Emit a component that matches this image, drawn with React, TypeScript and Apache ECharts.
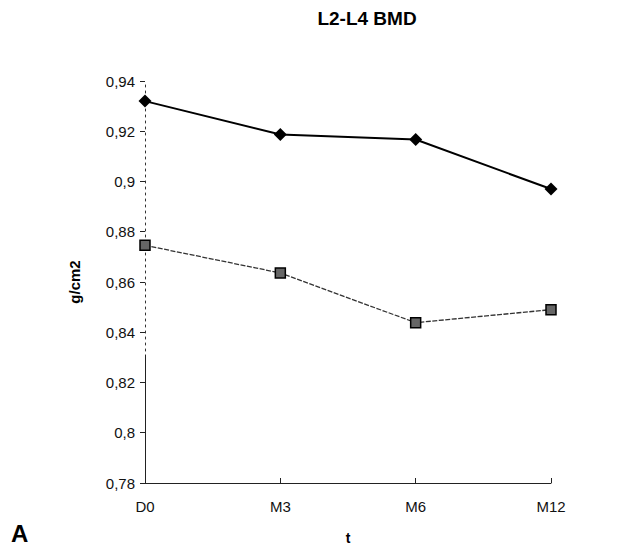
import React, { useEffect, useRef } from "react";
import * as echarts from "echarts";

const categories = ["D0", "M3", "M6", "M12"];
const seriesUpper = [0.932, 0.9187, 0.9167, 0.897];
const seriesLower = [0.8746, 0.8636, 0.8438, 0.849];
const yMin = 0.78;
const yMax = 0.94;
const yStep = 0.02;
const solidAxisPart = [0.78, 0.831];

const FONT = "'Liberation Sans', Arial, sans-serif";

export default function App() {
  const ref = useRef<HTMLDivElement>(null);
  useEffect(() => {
    if (!ref.current) return;
    const chart = echarts.init(ref.current, null, { renderer: "svg" });
    chart.setOption({
      animation: false,
      backgroundColor: "#ffffff",
      title: {
        text: "L2-L4 BMD",
        left: 362,
        top: 4,
        textAlign: "center",
        textStyle: { fontFamily: FONT, fontWeight: "bold", fontSize: 19, color: "#000" },
      },
      grid: { left: 145, top: 81, right: 89, bottom: 63, containLabel: false },
      xAxis: {
        type: "category",
        data: categories,
        boundaryGap: false,
        name: "t",
        nameLocation: "middle",
        nameGap: 48,
        nameTextStyle: { fontFamily: FONT, fontWeight: "bold", fontSize: 14, color: "#000" },
        axisLine: { lineStyle: { color: "#222", width: 1 } },
        axisTick: { show: true, inside: true, length: 5, lineStyle: { color: "#222" } },
        axisLabel: { fontFamily: FONT, fontSize: 15, color: "#111", margin: 16 },
        splitLine: { show: false },
      },
      yAxis: {
        type: "value",
        min: yMin,
        max: yMax,
        interval: yStep,
        name: "g/cm2",
        nameLocation: "middle",
        nameGap: 63,
        nameRotate: 90,
        nameTextStyle: { fontFamily: FONT, fontWeight: "bold", fontSize: 15, color: "#000" },
        axisLine: { show: true, lineStyle: { color: "#333", width: 1, type: [2, 4] } },
        axisTick: { show: true, length: 5, lineStyle: { color: "#222" } },
        axisLabel: {
          fontFamily: FONT,
          fontSize: 15,
          color: "#111",
          margin: 10,
          formatter: (v: number) => String(+v.toFixed(2)).replace(".", ","),
        },
        splitLine: { show: false },
      },
      graphic: [
        {
          type: "text",
          left: 11,
          top: 521,
          style: { text: "A", fontFamily: FONT, fontWeight: "bold", fontSize: 24, fill: "#000" },
        },
      ],
      series: [
        {
          type: "line",
          data: seriesUpper,
          symbol: "diamond",
          symbolSize: 13,
          itemStyle: { color: "#000" },
          lineStyle: { color: "#000", width: 2 },
          markLine: {
            silent: true,
            symbol: "none",
            label: { show: false },
            lineStyle: { color: "#222", width: 1, type: "solid" },
            data: [
              [
                { coord: [categories[0], solidAxisPart[0]] },
                { coord: [categories[0], solidAxisPart[1]] },
              ],
            ],
          },
        },
        {
          type: "line",
          data: seriesLower,
          symbol: "rect",
          symbolSize: 10,
          itemStyle: { color: "#666", borderColor: "#000", borderWidth: 1.5 },
          lineStyle: { color: "#333", width: 1.3, type: [5, 1.5] },
        },
      ],
    });
    return () => chart.dispose();
  }, []);
  return <div ref={ref} style={{ width: 640, height: 550, position: "absolute", left: 0, top: 0 }} />;
}
